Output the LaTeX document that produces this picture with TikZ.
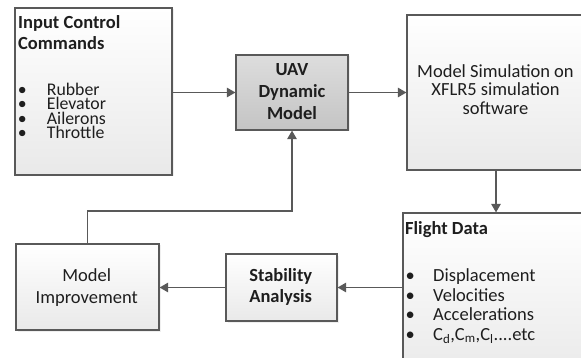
\documentclass[tikz,border=0pt]{standalone}
\usepackage{fontspec}
\setmainfont{Carlito}
\usetikzlibrary{arrows.meta,shadows}
\definecolor{linec}{HTML}{595959}
\definecolor{txt}{HTML}{1E1E1E}
\definecolor{lightbot}{HTML}{E9E9E9}
\definecolor{darktop}{HTML}{DDDDDD}
\definecolor{darkbot}{HTML}{C4C4C4}
\begin{document}
\begin{tikzpicture}[x=1pt,y=-1pt,
  box/.style={draw=linec, line width=1.2pt, top color=white, bottom color=lightbot, inner sep=0pt,
    drop shadow={opacity=0.12, shadow xshift=1.5pt, shadow yshift=-1.5pt}},
  darkbox/.style={box, top color=darktop, bottom color=darkbot},
  conn/.style={draw=linec, line width=1.2pt},
  arr/.style={conn, -{Triangle[length=8.5pt,width=9.5pt]}},
  txtf/.style={text=txt, inner sep=0pt, font=\fontsize{18.5}{18.3}\selectfont},
  listf/.style={text=txt, inner sep=0pt, font=\fontsize{17.8}{14.3}\selectfont},
  boldf/.style={text=txt, inner sep=0pt, font=\fontsize{18.5}{21.7}\selectfont\bfseries},
]
\useasboundingbox (0,0) rectangle (581,358);
\clip (0,0) rectangle (581,358);
\fill[white] (0,0) rectangle (581,358);

% boxes
\node[box, minimum width=157pt, minimum height=167pt] (inp) at (93.5,91.5) {};
\node[darkbox, minimum width=112pt, minimum height=75pt] (uav) at (292,92.5) {};
\node[box, minimum width=178pt, minimum height=155pt] (sim) at (496,92.5) {};
\node[box, minimum width=186pt, minimum height=167pt] (flight) at (496,296.5) {};
\node[box, minimum width=111pt, minimum height=67pt] (stab) at (281.5,287.5) {};
\node[box, minimum width=143pt, minimum height=86pt] (imp) at (87.5,287) {};

% connectors
\coordinate (bend) at (87.5,211);
\draw[arr] (inp.east |- uav.west) -- (uav.west);
\draw[arr] (uav.east) -- (sim.west |- uav.east);
\draw[arr] (sim.south) -- (flight.north);
\draw[arr] (flight.west |- stab.east) -- (stab.east);
\draw[arr] (stab.west) -- (imp.east |- stab.west);
\draw[arr] (imp.north) -- (bend) -| (uav.south);

% Input Control Commands
\node[boldf, anchor=base west] (h1) at (18,29) {\vtop{\baselineskip=21pt\lineskiplimit=-20pt
  \hbox{Input Control}\hbox{Commands}}};
\node[listf, anchor=base west] (ilist) at (17.6,95.7) {\vtop{\baselineskip=14.3pt\lineskiplimit=-20pt
  \hbox{\makebox[29.1pt][l]{\textbullet}Rubber}
  \hbox{\makebox[29.1pt][l]{\textbullet}Elevator}
  \hbox{\makebox[29.1pt][l]{\textbullet}Ailerons}
  \hbox{\makebox[29.1pt][l]{\textbullet}Throttle}}};

% UAV
\node[boldf, align=center] (uavt) at (292,91.5) {UAV\\Dynamic\\Model};

% Model simulation
\node[txtf, align=center] (simt) at (495.5,89.5) {Model Simulation on\\XFLR5 simulation\\software};

% Flight data
\node[boldf, anchor=base west] (fh) at (405,235) {Flight Data};
\node[txtf, anchor=base west] (flist) at (405.4,281.7) {\vtop{\baselineskip=19.5pt\lineskiplimit=-20pt
  \hbox{\makebox[27.6pt][l]{\textbullet}Displacement}
  \hbox{\makebox[27.6pt][l]{\textbullet}Velocities}
  \hbox{\makebox[27.6pt][l]{\textbullet}Accelerations}
  \hbox{\makebox[27.6pt][l]{\textbullet}C\textsubscript{d},C\textsubscript{m},C\textsubscript{l}....etc}}};

% Stability
\node[boldf, align=center] (stabt) at (280.7,287) {Stability\\Analysis};

% Model improvement
\node[txtf, align=center, font=\fontsize{18.5}{21.7}\selectfont] (impt) at (86.7,287.5) {Model\\Improvement};
\end{tikzpicture}
\end{document}
